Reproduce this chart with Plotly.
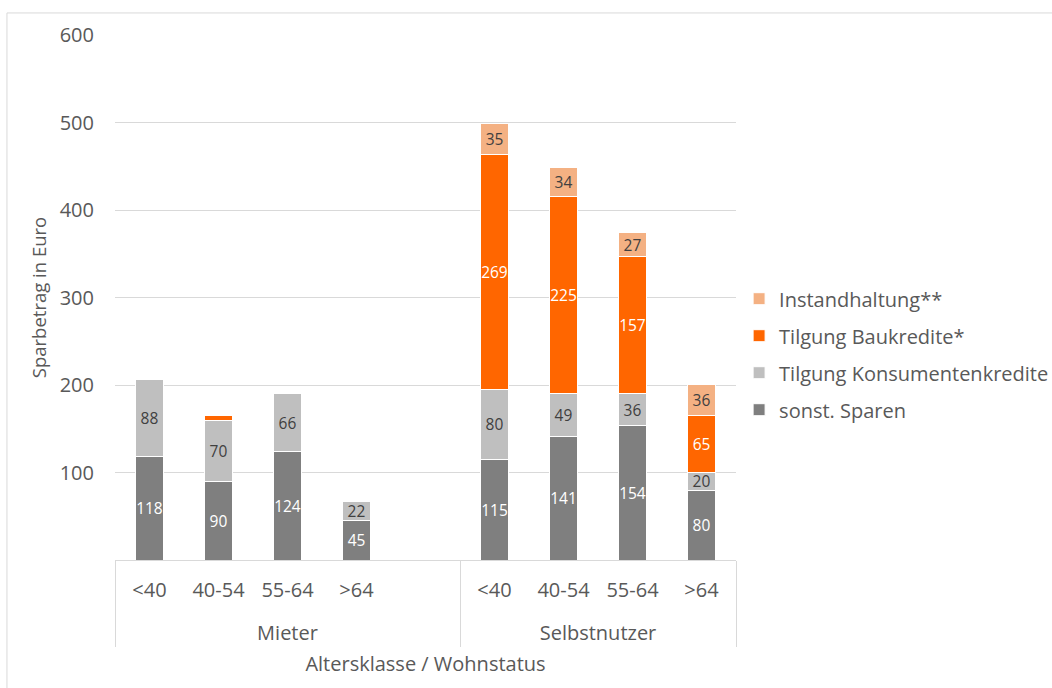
import plotly.graph_objects as go

# Altersklassen je Wohnstatus (Mieter mit leerer fünfter Spalte als Abstand)
wohnstatus = ["Mieter"] * 5 + ["Selbstnutzer"] * 4
altersklasse = ["<40", "40-54", "55-64", ">64", " ", "<40", "40-54", "55-64", ">64"]

sonst_sparen = [118, 90, 124, 45, None, 115, 141, 154, 80]
tilgung_konsum = [88, 70, 66, 22, None, 80, 49, 36, 20]
tilgung_bau = [2, 5, 0, 0, None, 269, 225, 157, 65]
instandhaltung = [0, 1, 2, 0, None, 35, 34, 27, 36]

y_ticks = [100, 200, 300, 400, 500, 600]

FONT = "Open Sans, Noto Sans, sans-serif"
DARK = "#404040"
GREY_TXT = "#595959"

# (Name, Werte, Farbe, Beschriftungsfarbe, Rang in der Legende)
series = [
    ("sonst. Sparen", sonst_sparen, "#7f7f7f", "white", 4),
    ("Tilgung Konsumentenkredite", tilgung_konsum, "#bfbfbf", DARK, 3),
    ("Tilgung Baukredite*", tilgung_bau, "#ff6600", "white", 2),
    ("Instandhaltung**", instandhaltung, "#f4b183", DARK, 1),
]

# Altersklassen-Beschriftung mit leerer zweiter Zeile für mehr Abstand zur Gruppenebene
alters_labels = [a + "<br> " for a in altersklasse]

fig = go.Figure()
for name, vals, color, tcolor, rank in series:
    labels = [str(v) if (v is not None and v >= 10) else "" for v in vals]
    fig.add_trace(go.Bar(
        x=[wohnstatus, alters_labels],
        y=vals,
        name=name,
        legendgroup=name,
        legendrank=rank,
        marker=dict(color=color, line=dict(color="white", width=1)),
        text=labels,
        textposition="inside",
        insidetextanchor="middle",
        textangle=0,
        textfont=dict(family=FONT, size=15.5, color=tcolor),
        hoverinfo="skip",
    ))

# Rahmen um die gesamte Grafik
fig.add_shape(type="rect", xref="paper", yref="paper",
              x0=-0.174, x1=1.6, y0=-0.5, y1=1.042,
              line=dict(color="#d9d9d9", width=1), fillcolor="rgba(0,0,0,0)",
              layer="below")

fig.update_layout(
    width=1052, height=688,
    barmode="stack",
    bargap=0.6,
    paper_bgcolor="white",
    plot_bgcolor="white",
    margin=dict(l=115, r=316, t=35, b=128, autoexpand=False),
    font=dict(family=FONT, size=20, color=GREY_TXT),
    uniformtext=dict(minsize=15, mode="show"),
    showlegend=True,
    legend=dict(
        x=1.005, y=0.392, xanchor="left", yanchor="middle",
        traceorder="grouped",
        tracegroupgap=8,
        font=dict(family=FONT, size=20, color=GREY_TXT),
        itemwidth=30,
    ),
    xaxis=dict(
        type="multicategory",
        showline=True, linecolor="#d9d9d9", linewidth=1,
        showdividers=True, dividercolor="#d9d9d9", dividerwidth=1,
        tickfont=dict(family=FONT, size=20, color=GREY_TXT),
        ticks="",
        ticklabelstandoff=12,
        title=dict(text="Altersklasse / Wohnstatus", standoff=11,
                   font=dict(family=FONT, size=20, color=GREY_TXT)),
    ),
    yaxis=dict(
        range=[0, 600],
        tickvals=y_ticks,
        showgrid=True, gridcolor="#d9d9d9", gridwidth=1,
        zeroline=False,
        showline=False,
        tickfont=dict(family=FONT, size=20, color=GREY_TXT),
        ticklabelstandoff=20,
        title=dict(text="Sparbetrag in Euro", standoff=8,
                   font=dict(family=FONT, size=18.5, color=GREY_TXT)),
    ),
)

fig.write_html("out.html")
